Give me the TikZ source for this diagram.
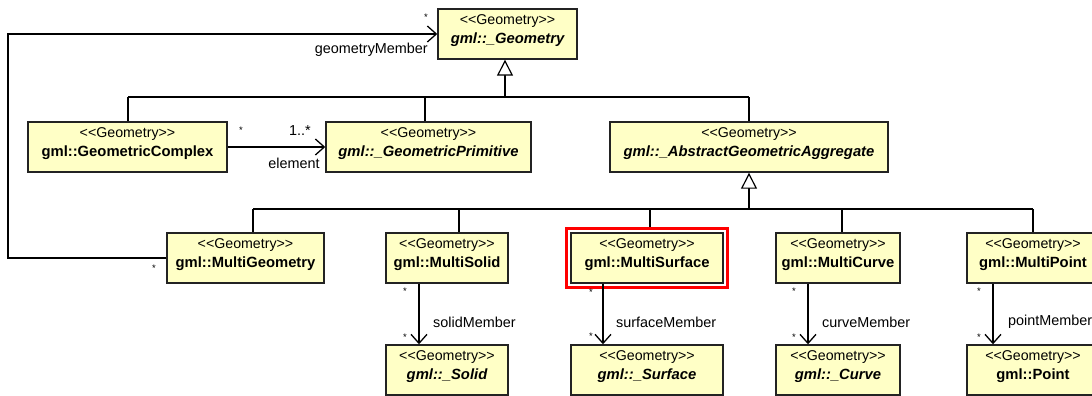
\documentclass[tikz,border=0pt]{standalone}
\usepackage{fontspec}
\newfontfamily\umlfont{Liberation Sans}
\usetikzlibrary{arrows.meta,fit}
\definecolor{classfill}{RGB}{255,255,198}
\definecolor{classline}{RGB}{35,35,35}
\newcommand\umlstereo{{\fontsize{14.2}{19}\selectfont<<Geometry>>}}
\newcommand\umlname[1]{{\fontsize{14.8}{19}\selectfont\bfseries #1\rule[-9pt]{0pt}{9pt}}}
\newcommand\umlabstract[1]{{\fontsize{14.8}{19}\selectfont\bfseries\itshape #1\rule[-9pt]{0pt}{9pt}}}
\tikzset{
  umlclass/.style={draw=classline, fill=classfill, line width=1.4pt,
    minimum height=50pt, inner sep=0pt, align=center,
    font=\umlfont\fontsize{14.8}{19}\selectfont},
  genline/.style={line width=1.3pt, draw=black},
  gen/.style={genline, -{Triangle[length=16pt,width=16pt,fill=white,line width=1.2pt]}},
  assoc/.style={line width=1.3pt, draw=black, -{Straight Barb[length=9pt,width=16pt,line width=1.3pt]}},
  mult/.style={font=\umlfont\fontsize{9.5}{10}\selectfont, inner sep=0pt},
  role/.style={font=\umlfont\fontsize{14.4}{16}\selectfont, inner sep=0pt},
  highlight/.style={draw=red, line width=3pt, inner sep=3.5pt}
}
\begin{document}
\begin{tikzpicture}[x=1pt,y=-1pt]
\useasboundingbox (0,0) rectangle (1092,396);
\clip (0,0) rectangle (1092,396);

% ---- classes ----
\node[umlclass, minimum width=139pt] (geom) at (507.5,34) {\umlstereo\\\umlabstract{gml::\_Geometry}};

\node[umlclass, minimum width=199pt] (gc)  at (127.5,147) {\umlstereo\\\umlname{gml::GeometricComplex}};
\node[umlclass, minimum width=205pt] (gp)  at (428.5,147) {\umlstereo\\\umlabstract{gml::\_GeometricPrimitive}};
\node[umlclass, minimum width=278pt] (agg) at (749,147)   {\umlstereo\\\umlabstract{gml::\_AbstractGeometricAggregate}};

\node[umlclass, minimum width=157pt] (mg)  at (245.5,258) {\umlstereo\\\umlname{gml::MultiGeometry}};
\node[umlclass, minimum width=122pt] (ms)  at (447,258)   {\umlstereo\\\umlname{gml::MultiSolid}};
\node[umlclass, minimum width=152pt] (msf) at (647,258)   {\umlstereo\\\umlname{gml::MultiSurface}};
\node[umlclass, minimum width=124pt] (mc)  at (838,258)   {\umlstereo\\\umlname{gml::MultiCurve}};
\node[umlclass, minimum width=132pt] (mp)  at (1033,258)  {\umlstereo\\\umlname{gml::MultiPoint}};

\node[umlclass, minimum width=122pt] (solid) at (447,370)  {\umlstereo\\\umlabstract{gml::\_Solid}};
\node[umlclass, minimum width=152pt] (surf)  at (647,370)  {\umlstereo\\\umlabstract{gml::\_Surface}};
\node[umlclass, minimum width=124pt] (curve) at (838,370)  {\umlstereo\\\umlabstract{gml::\_Curve}};
\node[umlclass, minimum width=132pt] (point) at (1033,370) {\umlstereo\\\umlname{gml::Point}};

\node[highlight, fit=(msf)] (msfmark) {};

% ---- generalization to gml::_Geometry ----
\coordinate (busA) at (505,97);
\coordinate (dGC) at (128,97);
\coordinate (dGP) at (425,97);
\coordinate (dAG) at (749,97);
\draw[genline] (dGC) -- (dAG);
\draw[genline] (dGC) -- (dGC |- gc.north);
\draw[genline] (dGP) -- (dGP |- gp.north);
\draw[genline] (dAG) -- (dAG |- agg.north);
\draw[gen] (busA) -- (busA |- geom.south);

% ---- generalization to gml::_AbstractGeometricAggregate ----
\coordinate (busB) at (749,209);
\coordinate (dMG) at (253,209);
\coordinate (dMS) at (459,209);
\coordinate (dMSF) at (650,209);
\coordinate (dMC) at (842,209);
\coordinate (dMP) at (1033,209);
\draw[genline] (dMG) -- (dMP);
\draw[genline] (dMG) -- (dMG |- mg.north);
\draw[genline] (dMS) -- (dMS |- ms.north);
\draw[genline] (dMSF) -- (dMSF |- msfmark.north);
\draw[genline] (dMC) -- (dMC |- mc.north);
\draw[genline] (dMP) -- (dMP |- mp.north);
\draw[gen] (busB) -- (busB |- agg.south);

% ---- geometryMember ----
\coordinate (loop) at (8,0);
\draw[assoc] (mg.west) -- (mg.west -| loop) |- (geom.west);
\node[mult, anchor=south east] at (428,21) {*};
\node[role, anchor=east] (gmrole) at (428,50) {geometryMember};
\node[mult] at (154,268) {*};

% ---- element ----
\draw[assoc] (gc.east) -- (gp.west);
\node[mult] at (241,130) {*};
\node[role] at (300,131) {1..*};
\node[role] at (294,163) {element};

% ---- member associations ----
\draw[assoc] ([xshift=-28pt]ms.south) -- ([xshift=-28pt]solid.north);
\node[mult] at (405,291) {*};
\node[mult] at (405,337) {*};
\node[role, anchor=west] at (433,322) {solidMember};

\draw[assoc] ([xshift=-44pt]msf.south) -- ([xshift=-44pt]surf.north);
\node[mult] at (591,292) {*};
\node[mult] at (591,336) {*};
\node[role, anchor=west] at (616,322) {surfaceMember};

\draw[assoc] ([xshift=-30pt]mc.south) -- ([xshift=-30pt]curve.north);
\node[mult] at (794,291) {*};
\node[mult] at (794,337) {*};
\node[role, anchor=west] at (822,322) {curveMember};

\draw[assoc] ([xshift=-40pt]mp.south) -- ([xshift=-40pt]point.north);
\node[mult] at (979,291) {*};
\node[mult] at (979,337) {*};
\node[role, anchor=west] at (1008,322) {pointMember};
\end{tikzpicture}
\end{document}
